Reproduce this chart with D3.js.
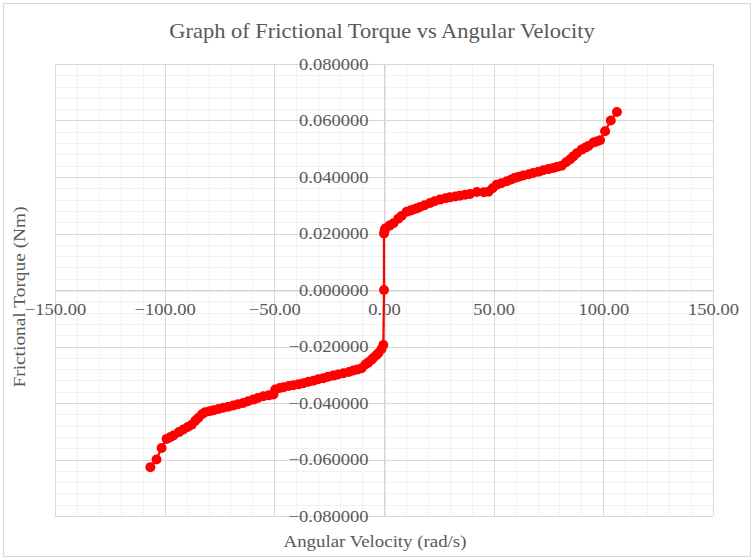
<!DOCTYPE html>
<html><head><meta charset="utf-8">
<script src="https://cdn.jsdelivr.net/npm/d3@7"></script>
<style>body{margin:0;background:#fff}svg{display:block}</style>
</head><body>
<svg id="c" width="754" height="560"></svg>
<script>
const title = "Graph of Frictional Torque vs Angular Velocity";
const xTitle = "Angular Velocity (rad/s)";
const yTitle = "Frictional Torque (Nm)";
const xTicks = [-150, -100, -50, 0, 50, 100, 150];
const yTicks = [-0.08, -0.06, -0.04, -0.02, 0, 0.02, 0.04, 0.06, 0.08];
const velocity = [
 -106.5,-103.7,-101.4,-99.1,-97.5,-96.0,-93.5,-91.5,-89.5,-87.7,-86.0,-84.7,-83.0,-81.6,-79.5,-77.8,-75.5,-73.3,-71.0,-68.7,
 -66.5,-64.2,-62.0,-59.6,-57.5,-55.0,-52.5,-50.4,-49.6,-47.5,-45.8,-43.5,-41.3,-39.0,-36.7,-34.5,-32.2,-30.0,-27.6,-25.5,
 -23.1,-21.0,-18.5,-16.0,-14.0,-12.0,-10.2,-8.5,-7.2,-5.8,-4.9,-3.5,-2.6,-1.2,-0.3,
 0.0,
 0.0,0.3,0.6,2.5,4.3,6.5,8.0,10.3,12.0,13.4,15.0,16.4,18.5,21.0,23.0,25.5,28.0,30.0,32.5,34.6,
 37.0,39.2,42.3,45.5,47.6,49.5,51.4,53.5,56.0,58.0,59.7,61.5,63.5,66.0,68.0,70.5,72.6,75.0,77.2,79.0,
 81.0,83.0,84.8,86.3,87.9,90.1,91.8,93.2,95.5,97.0,98.5,100.8,103.4,106.2
];
const torque = [
 -0.0627,-0.0600,-0.0559,-0.0527,-0.0521,-0.0515,-0.0503,-0.0494,-0.0485,-0.0477,-0.0463,-0.0453,-0.0440,-0.0433,-0.0429,-0.0426,-0.0421,-0.0417,-0.0413,-0.0409,
 -0.0404,-0.0400,-0.0394,-0.0388,-0.0382,-0.0376,-0.0373,-0.0370,-0.0352,-0.0347,-0.0344,-0.0340,-0.0337,-0.0334,-0.0330,-0.0325,-0.0321,-0.0316,-0.0312,-0.0307,
 -0.0303,-0.0299,-0.0295,-0.0290,-0.0285,-0.0281,-0.0277,-0.0264,-0.0257,-0.0248,-0.0241,-0.0231,-0.0224,-0.0210,-0.0195,
 0.0000,
 0.0200,0.0210,0.0218,0.0228,0.0236,0.0252,0.0262,0.0277,0.0281,0.0285,0.0289,0.0294,0.0300,0.0308,0.0314,0.0320,0.0325,0.0328,0.0331,0.0334,
 0.0337,0.0340,0.0347,0.0346,0.0348,0.0360,0.0373,0.0378,0.0385,0.0391,0.0397,0.0401,0.0405,0.0410,0.0414,0.0419,0.0424,0.0428,0.0432,0.0436,
 0.0440,0.0452,0.0462,0.0473,0.0484,0.0497,0.0504,0.0510,0.0522,0.0526,0.0530,0.0562,0.0600,0.0630
];
const data = velocity.map((v,i)=>({v, t: torque[i]}));

const svg = d3.select("#c");
const W=754,H=560;
const plot = {l:55, r:713, t:64, b:516};
const font = "'Liberation Serif','Times New Roman',serif";
const grey = "#595959";
const sx = 1.09; // horizontal glyph stretch seen in the reference

svg.append("rect").attr("x",3.5).attr("y",3.5).attr("width",W-7).attr("height",H-7)
  .attr("fill","#fff").attr("stroke","#d9d9d9");

const x = d3.scaleLinear().domain([-150,150]).range([plot.l,plot.r]);
const y = d3.scaleLinear().domain([-0.08,0.08]).range([plot.b,plot.t]);

// minor gridlines
const xMinor = d3.range(-150,151,10);
const yMinor = d3.range(-20,21).map(k=>k*0.004);
const g = svg.append("g");
g.selectAll(".xm").data(xMinor).join("line")
  .attr("x1",d=>Math.round(x(d))+0.5).attr("x2",d=>Math.round(x(d))+0.5)
  .attr("y1",plot.t).attr("y2",plot.b).attr("stroke","#f2f2f2");
g.selectAll(".ym").data(yMinor).join("line")
  .attr("y1",d=>Math.round(y(d))+0.5).attr("y2",d=>Math.round(y(d))+0.5)
  .attr("x1",plot.l).attr("x2",plot.r).attr("stroke","#f2f2f2");
// major gridlines
g.selectAll(".xM").data(xTicks).join("line")
  .attr("x1",d=>Math.round(x(d))+0.5).attr("x2",d=>Math.round(x(d))+0.5)
  .attr("y1",plot.t).attr("y2",plot.b).attr("stroke","#d9d9d9");
g.selectAll(".yM").data(yTicks).join("line")
  .attr("y1",d=>Math.round(y(d))+0.5).attr("y2",d=>Math.round(y(d))+0.5)
  .attr("x1",plot.l).attr("x2",plot.r).attr("stroke","#d9d9d9");

// axes crossing at zero
const xAxis = d3.axisBottom(x).tickValues(xTicks).tickSize(0).tickPadding(12).tickFormat(d3.format(".2f"));
const yAxis = d3.axisLeft(y).tickValues(yTicks).tickSize(0).tickPadding(16).tickFormat(d3.format(".6f"));
const gx = svg.append("g").attr("transform",`translate(0,${Math.round(y(0))+0.5})`).call(xAxis);
const gy = svg.append("g").attr("transform",`translate(${Math.round(x(0))+0.5},0)`).call(yAxis);
[gx,gy].forEach(a=>{
  a.select(".domain").attr("stroke","#d0d0d0");
  a.selectAll("text").attr("font-family",font).attr("font-size",17).attr("fill",grey);
});
gx.selectAll("text").attr("transform",`scale(${sx},1)`);
gy.selectAll("text").attr("x",-16/sx).attr("transform",`scale(${sx},1)`);

// series
const line = d3.line().x(d=>x(d.v)).y(d=>y(d.t));
svg.append("path").datum(data).attr("d",line).attr("fill","none")
  .attr("stroke","#ff0000").attr("stroke-width",2.25);
svg.append("g").selectAll("circle").data(data).join("circle")
  .attr("cx",d=>x(d.v)).attr("cy",d=>y(d.t)).attr("r",5).attr("fill","#ff0000");

// titles
svg.append("text").attr("transform","translate(382,38) scale(1.07,1)").attr("text-anchor","middle")
  .attr("font-family",font).attr("font-size",21).attr("fill",grey).text(title);
svg.append("text").attr("transform","translate(375,547) scale(1.11,1)").attr("text-anchor","middle")
  .attr("font-family",font).attr("font-size",17).attr("fill",grey).text(xTitle);
svg.append("text").attr("transform","translate(25,297) rotate(-90) scale(1.14,1)").attr("text-anchor","middle")
  .attr("font-family",font).attr("font-size",17).attr("fill",grey).text(yTitle);
</script>
</body></html>
